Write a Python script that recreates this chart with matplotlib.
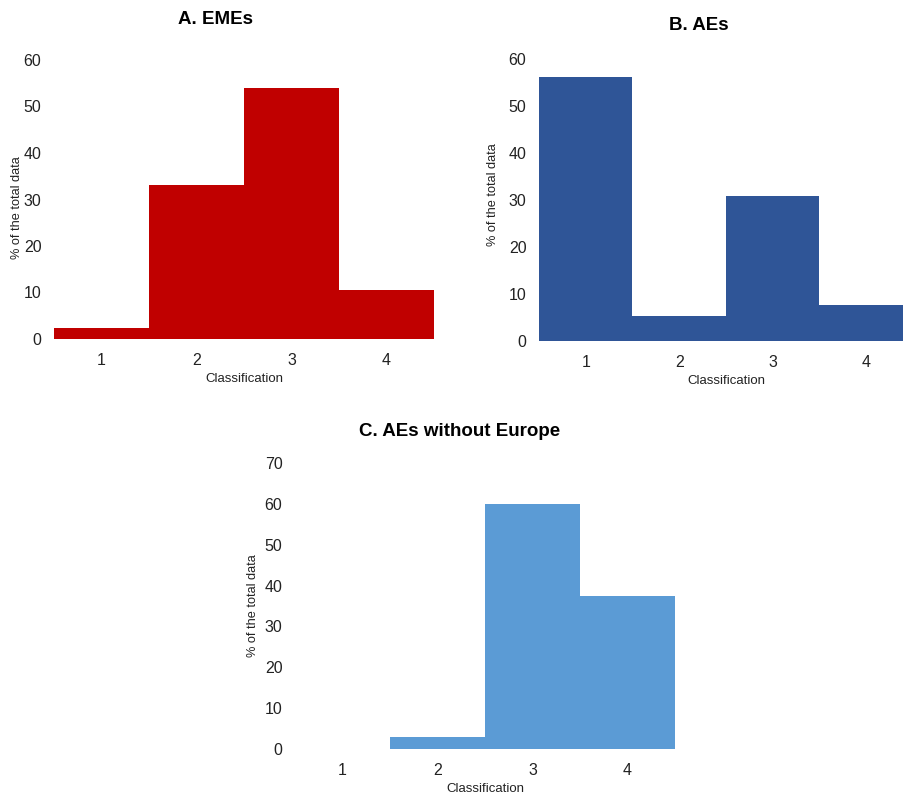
import matplotlib.pyplot as plt

plt.rcParams["font.family"] = ["Liberation Sans", "DejaVu Sans"]

classes = [1, 2, 3, 4]
emes_pct = [2.4, 33.1, 54.0, 10.6]
aes_pct = [56.1, 5.3, 30.9, 7.7]
aes_ex_europe_pct = [0.0, 2.9, 60.0, 37.4]

W, H = 904, 795
fig = plt.figure(figsize=(W / 100, H / 100), dpi=100)


def px_axes(left, top, right, bottom):
    return fig.add_axes([left / W, 1 - bottom / H, (right - left) / W, (bottom - top) / H])


def draw_panel(ax, values, color, ymax, ystep):
    ax.bar(classes, values, width=1.0, color=color, linewidth=0)
    ax.set_xlim(0.5, 4.5)
    ax.set_ylim(0, ymax)
    ax.set_xticks(classes)
    ax.set_yticks(range(0, ymax + 1, ystep))
    for s in ax.spines.values():
        s.set_visible(False)
    ax.tick_params(length=0, labelsize=11.5, colors="#222222")
    ax.tick_params(axis="y", pad=9)
    ax.tick_params(axis="x", pad=10)
    ax.set_xlabel("Classification", fontsize=9.5, color="#222222")
    ax.set_ylabel("% of the total data", fontsize=9.2, color="#222222")
    ax.xaxis.label.set_va("center")
    ax.yaxis.label.set_va("center")


# panel A
ax_a = px_axes(54, 60, 434, 339)
draw_panel(ax_a, emes_pct, "#C00000", 60, 10)
ax_a.xaxis.set_label_coords(0.5, -40 / 279)
ax_a.yaxis.set_label_coords(-37 / 380, 0.47)
fig.text(216 / W, 1 - 19 / H, "A. EMEs", ha="center", va="center", fontsize=13.5, fontweight="bold")

# panel B
ax_b = px_axes(539, 59, 913, 341)
draw_panel(ax_b, aes_pct, "#2F5597", 60, 10)
ax_b.xaxis.set_label_coords(0.5, -40 / 282)
ax_b.yaxis.set_label_coords(-46 / 374, 0.52)
fig.text(699 / W, 1 - 26 / H, "B. AEs", ha="center", va="center", fontsize=13.5, fontweight="bold")

# panel C
ax_c = px_axes(295, 463, 675, 749)
draw_panel(ax_c, aes_ex_europe_pct, "#5B9BD5", 70, 10)
ax_c.xaxis.set_label_coords(0.5, -40 / 286)
ax_c.yaxis.set_label_coords(-42 / 380, 0.5)
fig.text(460 / W, 1 - 431 / H, "C. AEs without Europe", ha="center", va="center", fontsize=13.5, fontweight="bold")

fig.savefig("out.png", dpi=100)
